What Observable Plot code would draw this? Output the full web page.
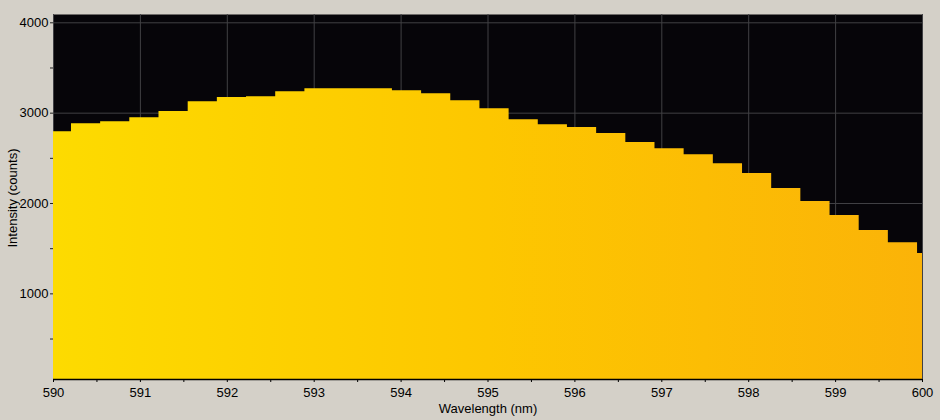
<!DOCTYPE html>
<html><head><meta charset="utf-8">
<script src="https://cdn.jsdelivr.net/npm/d3@7"></script>
<script src="https://cdn.jsdelivr.net/npm/@observablehq/plot@0.6"></script>
<style>
html,body{margin:0;padding:0;background:#d4d0c8;}
#chart svg{display:block;}
</style></head>
<body><div id="chart"></div>
<script>
// Sample wavelengths (nm), bin centres
const wavelengths = [590.039, 590.375, 590.710, 591.046, 591.382, 591.718, 592.053, 592.389, 592.725, 593.061,
  593.396, 593.732, 594.068, 594.404, 594.739, 595.075, 595.411, 595.746, 596.082, 596.418,
  596.754, 597.089, 597.425, 597.761, 598.097, 598.432, 598.768, 599.104, 599.439, 599.775, 600.111];
// Intensity (counts)
const counts = [2795, 2884, 2906, 2950, 3017, 3127, 3172, 3183, 3238, 3271,
  3271, 3271, 3249, 3216, 3138, 3050, 2928, 2873, 2840, 2774,
  2674, 2607, 2541, 2441, 2331, 2165, 2021, 1866, 1700, 1567, 1446];
const xTicks = [590, 591, 592, 593, 594, 595, 596, 597, 598, 599, 600];
const xMinorTicks = [590.5, 591.5, 592.5, 593.5, 594.5, 595.5, 596.5, 597.5, 598.5, 599.5];
const yTicks = [1000, 2000, 3000, 4000];
const yMinorTicks = [500, 1500, 2500, 3500];
const xDomain = [590, 600];
const yDomain = [52, 4092];
const xLabel = "Wavelength (nm)";
const yLabel = "Intensity (counts)";

// Step outline: each bin spans halfway to its neighbours
const stepPoints = wavelengths.flatMap((w, i) => {
  const prev = i > 0 ? wavelengths[i - 1] : w - (wavelengths[1] - wavelengths[0]);
  const next = i < wavelengths.length - 1 ? wavelengths[i + 1] : w + (w - wavelengths[i - 1]);
  return [{x: (prev + w) / 2, count: counts[i]}, {x: (w + next) / 2, count: counts[i]}];
});

const plot = Plot.plot({
  width: 940,
  height: 420,
  marginLeft: 53,
  marginRight: 18,
  marginTop: 14,
  marginBottom: 41,
  style: {fontFamily: "'Liberation Sans', Arial, sans-serif", fontSize: "13px", background: "#d4d0c8", color: "#000"},
  x: {domain: xDomain},
  y: {domain: yDomain},
  marks: [
    Plot.frame({fill: "#060509", stroke: null}),
    Plot.gridX(xTicks, {stroke: "#404044", strokeOpacity: 1}),
    Plot.gridY(yTicks, {stroke: "#404044", strokeOpacity: 1}),
    Plot.areaY(stepPoints, {x: "x", y1: yDomain[0], y2: "count", curve: "linear", fill: "url(#specgrad)", clip: true}),
    Plot.ruleY([yDomain[0]], {stroke: "#000", strokeWidth: 1.5}),
    Plot.axisX(xTicks, {tickSize: 3, tickPadding: 5, label: null, stroke: "#000", tickFormat: d3.format("d")}),
    Plot.axisX(xMinorTicks, {tickSize: 3, text: null, label: null, stroke: "#000"}),
    Plot.axisY(yTicks, {tickSize: 3, tickPadding: 2, label: null, stroke: "#222", tickFormat: d3.format("d")}),
    Plot.axisY(yMinorTicks, {tickSize: 3, text: null, label: null, stroke: "#222"}),
    Plot.text([xLabel], {frameAnchor: "bottom", lineAnchor: "middle", dy: 29, fill: "#000"}),
    Plot.text([yLabel], {frameAnchor: "left", rotate: -90, lineAnchor: "middle", textAnchor: "middle", dx: -40.5, dy: 1, fill: "#000"})
  ]
});

const xr = plot.scale("x").range;
const svg = d3.select(plot).select("svg").empty() ? d3.select(plot) : d3.select(plot).select("svg");
const defs = svg.insert("defs", ":first-child");
const grad = defs.append("linearGradient")
  .attr("id", "specgrad")
  .attr("gradientUnits", "userSpaceOnUse")
  .attr("x1", xr[0]).attr("x2", xr[1]).attr("y1", 0).attr("y2", 0);
grad.append("stop").attr("offset", "0%").attr("stop-color", "#fddb00");
grad.append("stop").attr("offset", "50%").attr("stop-color", "#fdc700");
grad.append("stop").attr("offset", "100%").attr("stop-color", "#fbb308");

document.getElementById("chart").append(plot);
</script>
</body></html>
